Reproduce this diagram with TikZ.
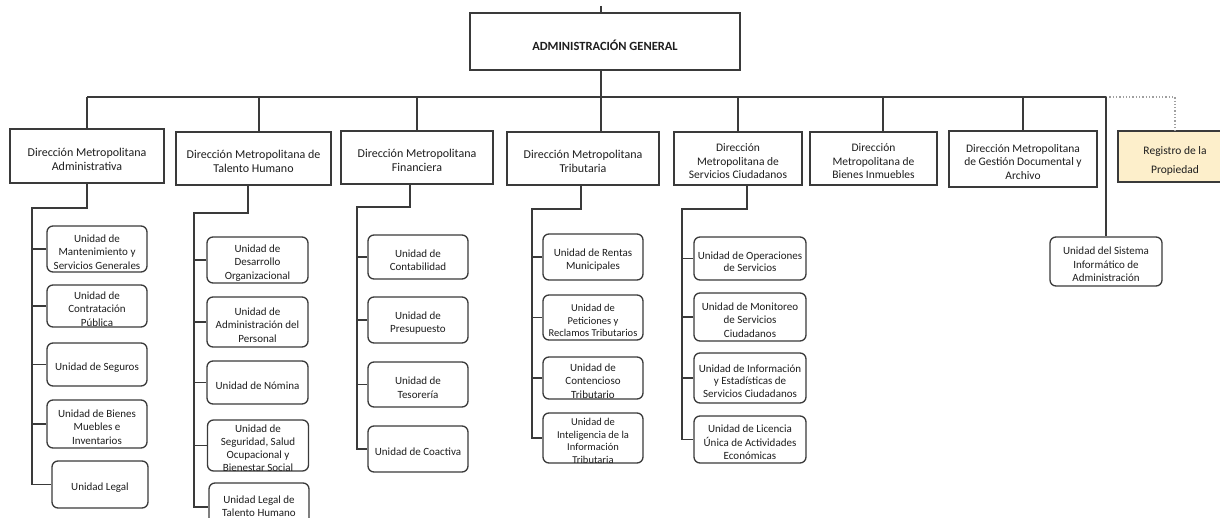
\documentclass[tikz,border=0pt]{standalone}
\usepackage{fontspec}
\setmainfont{Carlito}
\definecolor{ln}{HTML}{3A3A3A}
\definecolor{tx}{HTML}{1E1E1E}
\definecolor{regfill}{HTML}{FDEFCB}
\begin{document}
\begin{tikzpicture}[x=1pt,y=-1pt,
  sz/.style 2 args={minimum width=#1, minimum height=#2},
  dirbox/.style={draw=ln, line width=1.3pt, fill=white, inner sep=0pt},
  unitbox/.style={draw=ln, line width=1.3pt, rounded corners=6pt, fill=white, inner sep=0pt},
  dtx/.style={align=center, inner sep=0pt, text=tx, yshift=-3pt, font=\fontsize{12}{14}\selectfont},
  utx/.style={align=center, inner sep=0pt, text=tx, yshift=-3pt, font=\fontsize{11}{13.5}\selectfont},
  conn/.style={draw=ln, line width=1.3pt},
  dotconn/.style={draw=gray!75, line width=1.3pt, dotted}]
\useasboundingbox (0,0) rectangle (1220,518);

% top
\node[dirbox, sz={270pt}{57pt}, label={[dtx, yshift=-1pt, font=\bfseries\fontsize{12.5}{14}\selectfont]center:{ADMINISTRACIÓN GENERAL}}] (top) at (605,41.5) {};

% directions
\node[dirbox, sz={154pt}{54pt}, label={[dtx]center:{Dirección Metropolitana\\Administrativa}}] (d1) at (87,156) {};
\node[dirbox, sz={155pt}{53pt}, label={[dtx]center:{Dirección Metropolitana de\\Talento Humano}}] (d2) at (253.5,158.5) {};
\node[dirbox, sz={152pt}{53pt}, label={[dtx]center:{Dirección Metropolitana\\Financiera}}] (d3) at (417,157.5) {};
\node[dirbox, sz={152pt}{53pt}, label={[dtx]center:{Dirección Metropolitana\\Tributaria}}] (d4) at (583,158.5) {};
\node[dirbox, sz={128pt}{53pt}, label={[dtx, font=\fontsize{11.5}{13.5}\selectfont]center:{Dirección\\Metropolitana de\\Servicios Ciudadanos}}] (d5) at (738,158.5) {};
\node[dirbox, sz={127pt}{53pt}, label={[dtx, font=\fontsize{11.5}{13.5}\selectfont]center:{Dirección\\Metropolitana de\\Bienes Inmuebles}}] (d6) at (873.5,158.5) {};
\node[dirbox, sz={148pt}{56pt}, label={[dtx, font=\fontsize{11.5}{13.5}\selectfont]center:{Dirección Metropolitana\\de Gestión Documental y\\Archivo}}] (d7) at (1023,159) {};
\node[dirbox, sz={114pt}{51pt}, fill=regfill, label={[dtx, yshift=-1pt, font=\fontsize{11.5}{19}\selectfont]center:{Registro de la\\Propiedad}}] (reg) at (1175,156.5) {};

% column 1
\node[unitbox, sz={100pt}{46pt}, label={[utx]center:{Unidad de\\Mantenimiento y\\Servicios Generales}}] (u11) at (97,249) {};
\node[unitbox, sz={100pt}{42pt}, label={[utx]center:{Unidad de\\Contratación\\Pública}}] (u12) at (97,306) {};
\node[unitbox, sz={100pt}{43pt}, label={[utx]center:{Unidad de Seguros}}] (u13) at (97,364.5) {};
\node[unitbox, sz={100pt}{48pt}, label={[utx]center:{Unidad de Bienes\\Muebles e\\Inventarios}}] (u14) at (97,424) {};
\node[unitbox, sz={96pt}{47pt}, label={[utx]center:{Unidad Legal}}] (u15) at (100,484.5) {};

% column 2
\node[unitbox, sz={101pt}{46pt}, label={[utx]center:{Unidad de\\Desarrollo\\Organizacional}}] (u21) at (257.5,260) {};
\node[unitbox, sz={101pt}{50pt}, label={[utx]center:{Unidad de\\Administración del\\Personal}}] (u22) at (257.5,322) {};
\node[unitbox, sz={101pt}{43pt}, label={[utx]center:{Unidad de Nómina}}] (u23) at (257.5,382.5) {};
\node[unitbox, sz={101pt}{51pt}, label={[utx, font=\fontsize{11}{13}\selectfont]center:{Unidad de\\Seguridad, Salud\\Ocupacional y\\Bienestar Social}}] (u24) at (258,445.5) {};
\node[unitbox, sz={100pt}{48pt}, label={[utx, yshift=4pt]center:{Unidad Legal de\\Talento Humano}}] (u25) at (259,507) {};

% column 3
\node[unitbox, sz={100pt}{44pt}, label={[utx]center:{Unidad de\\Contabilidad}}] (u31) at (418,257) {};
\node[unitbox, sz={100pt}{46pt}, label={[utx]center:{Unidad de\\Presupuesto}}] (u32) at (418,320) {};
\node[unitbox, sz={100pt}{45pt}, label={[utx]center:{Unidad de\\Tesorería}}] (u33) at (418,384.5) {};
\node[unitbox, sz={100pt}{46pt}, label={[utx]center:{Unidad de Coactiva}}] (u34) at (418,449) {};

% column 4
\node[unitbox, sz={100pt}{46pt}, label={[utx]center:{Unidad de Rentas\\Municipales}}] (u41) at (593,257) {};
\node[unitbox, sz={100pt}{45pt}, label={[utx, font=\fontsize{10.5}{12.5}\selectfont]center:{Unidad de\\Peticiones y\\Reclamos Tributarios}}] (u42) at (593,317.5) {};
\node[unitbox, sz={100pt}{42pt}, label={[utx]center:{Unidad de\\Contencioso\\Tributario}}] (u43) at (593,378) {};
\node[unitbox, sz={100pt}{50pt}, label={[utx, font=\fontsize{10.5}{12.5}\selectfont]center:{Unidad de\\Inteligencia de la\\Información\\Tributaria}}] (u44) at (593,438) {};

% column 5
\node[unitbox, sz={112pt}{43pt}, label={[utx, font=\fontsize{11}{12.5}\selectfont]center:{Unidad de Operaciones\\de Servicios}}] (u51) at (750,258.5) {};
\node[unitbox, sz={112pt}{48pt}, label={[utx]center:{Unidad de Monitoreo\\de Servicios\\Ciudadanos}}] (u52) at (750,317) {};
\node[unitbox, sz={112pt}{50pt}, label={[utx, font=\fontsize{11}{12.5}\selectfont]center:{Unidad de Información\\y Estadísticas de\\Servicios Ciudadanos}}] (u53) at (750,378) {};
\node[unitbox, sz={112pt}{47pt}, label={[utx]center:{Unidad de Licencia\\Única de Actividades\\Económicas}}] (u54) at (750,439.5) {};

% sistema
\node[unitbox, sz={112pt}{49pt}, label={[utx]center:{Unidad del Sistema\\Informático de\\Administración}}] (sis) at (1106,261.5) {};

% top connectors
\coordinate (tick) at (601,6);
\coordinate (bus) at (601,97);
\coordinate (busL) at (87,97);
\coordinate (busR) at (1106,97);
\coordinate (t2) at (259,97);
\coordinate (t6) at (883,97);
\draw[conn] (tick) -- (tick |- top.north);
\draw[conn] (bus |- top.south) -- (bus);
\draw[conn] (busL) -- (busR);
\draw[dotconn] (busR) -| (reg.north);
\draw[conn] (d1.north) -- (d1.north |- busL);
\draw[conn] (t2) -- (t2 |- d2.north);
\draw[conn] (d3.north) -- (d3.north |- busL);
\draw[conn] (bus) -- (bus |- d4.north);
\draw[conn] (d5.north) -- (d5.north |- busL);
\draw[conn] (t6) -- (t6 |- d6.north);
\draw[conn] (d7.north) -- (d7.north |- busL);
\draw[conn] (busR) -- (sis.north);

% column 1 connectors
\coordinate (k1) at (32,208);
\draw[conn] (d1.south) |- (k1) |- (u15.west);
\foreach \u in {u11,u12,u13,u14} \draw[conn] (\u.west) -- (\u.west -| k1);

% column 2 connectors
\coordinate (s2) at (248,185);
\coordinate (k2) at (194,213);
\draw[conn] (s2 |- d2.south) |- (k2) |- (u25.west);
\foreach \u in {u21,u22,u23,u24} \draw[conn] (\u.west) -- (\u.west -| k2);

% column 3 connectors
\coordinate (s3) at (410,185);
\coordinate (k3) at (357,207);
\draw[conn] (s3 |- d3.south) |- (k3) |- (u34.west);
\foreach \u in {u31,u32,u33} \draw[conn] (\u.west) -- (\u.west -| k3);

% column 4 connectors
\coordinate (s4) at (581,185);
\coordinate (k4) at (532,209);
\draw[conn] (s4 |- d4.south) |- (k4) |- (u44.west);
\foreach \u in {u41,u42,u43} \draw[conn] (\u.west) -- (\u.west -| k4);

% column 5 connectors
\coordinate (s5) at (747,185);
\coordinate (k5) at (682,209);
\draw[conn] (s5 |- d5.south) |- (k5) |- (u54.west);
\foreach \u in {u51,u52,u53} \draw[conn] (\u.west) -- (\u.west -| k5);
\end{tikzpicture}
\end{document}
